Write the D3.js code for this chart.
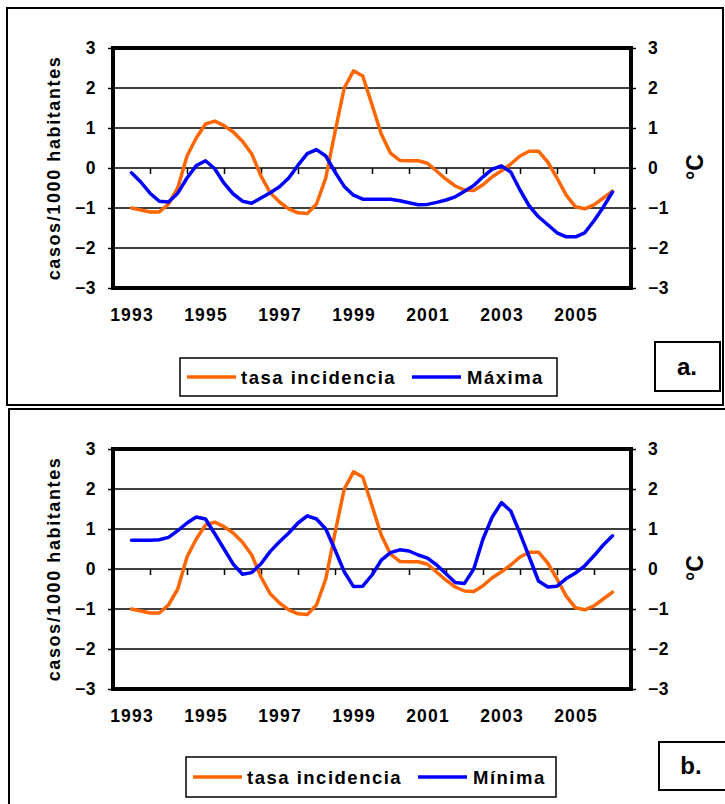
<!DOCTYPE html>
<html>
<head>
<meta charset="utf-8">
<script src="https://cdn.jsdelivr.net/npm/d3@7"></script>
<style>
  html, body { margin: 0; padding: 0; background: #fff; }
  svg { display: block; font-family: "Liberation Sans", Arial, sans-serif; font-weight: bold; }
</style>
</head>
<body>
<svg id="chart" width="725" height="804"></svg>
<script>
// ---- data (quarterly points, 1993.00 .. 2006.00) ----
const periods = d3.range(53).map(i => 1993 + i * 0.25);
const yearLabels = [1993, 1995, 1997, 1999, 2001, 2003, 2005];
const yTicks = [-3, -2, -1, 0, 1, 2, 3];

const tasaIncidencia = [
  -1.0, -1.05, -1.1, -1.1, -0.9, -0.5, 0.3, 0.75,
  1.1, 1.17, 1.06, 0.9, 0.67, 0.35, -0.2, -0.62,
  -0.85, -1.02, -1.12, -1.14, -0.9, -0.25, 0.9, 2.0,
  2.43, 2.3, 1.58, 0.85, 0.37, 0.19, 0.18, 0.18,
  0.12, -0.08, -0.28, -0.45, -0.55, -0.56, -0.42, -0.22,
  -0.07, 0.1, 0.3, 0.42, 0.42, 0.15, -0.25, -0.68,
  -0.97, -1.02, -0.92, -0.75, -0.58
];
const maxima = [
  -0.12, -0.35, -0.63, -0.83, -0.85, -0.63, -0.25, 0.06,
  0.18, -0.02, -0.38, -0.65, -0.83, -0.88, -0.75, -0.62,
  -0.47, -0.25, 0.07, 0.36, 0.46, 0.3, -0.1, -0.46,
  -0.68, -0.78, -0.78, -0.78, -0.78, -0.82, -0.87, -0.92,
  -0.91, -0.86, -0.8, -0.72, -0.58, -0.44, -0.22, -0.03,
  0.05, -0.1, -0.55, -0.95, -1.22, -1.42, -1.62, -1.72,
  -1.72, -1.62, -1.32, -0.98, -0.6
];
const minima = [
  0.72, 0.72, 0.72, 0.73, 0.79, 0.96, 1.15, 1.3,
  1.25, 0.88, 0.5, 0.12, -0.13, -0.09, 0.13, 0.44,
  0.68, 0.9, 1.15, 1.33, 1.25, 1.0, 0.48, -0.07,
  -0.44, -0.43, -0.15, 0.22, 0.41, 0.48, 0.45, 0.35,
  0.27, 0.1, -0.12, -0.34, -0.36, 0.0, 0.75, 1.3,
  1.66, 1.45, 0.89, 0.3, -0.3, -0.45, -0.43, -0.24,
  -0.1, 0.08, 0.33, 0.6, 0.83
];

const ORANGE = "#FF6600", BLUE = "#0000FF";
const FONT = '"Liberation Sans", Arial, sans-serif';
const svg = d3.select("#chart");

// outer panel frames
svg.append("rect").attr("x", 7).attr("y", 8).attr("width", 716).attr("height", 397)
  .attr("fill", "none").attr("stroke", "#000").attr("stroke-width", 2);
svg.append("rect").attr("x", 9).attr("y", 409).attr("width", 730).attr("height", 410)
  .attr("fill", "none").attr("stroke", "#000").attr("stroke-width", 2);

function styleText(s, size, ls) {
  s.attr("font-size", size).attr("font-weight", "bold").attr("font-family", FONT)
   .attr("fill", "#000").attr("letter-spacing", ls || null);
}

function panel(opt) {
  const g = svg.append("g");
  const x = d3.scaleLinear().domain([1992.5, 2006.5]).range([113, 631]);
  const y = d3.scaleLinear().domain([-3, 3]).range([opt.bottom, opt.top]);

  // gridlines
  g.append("g").selectAll("line").data(yTicks.filter(v => v !== -3 && v !== 3)).join("line")
    .attr("x1", x.range()[0]).attr("x2", x.range()[1])
    .attr("y1", d => y(d)).attr("y2", d => y(d))
    .attr("stroke", "#000").attr("stroke-width", 1.3);

  // category ticks on the zero line
  const tickAxis = d3.axisBottom(x).tickValues(d3.range(1993.5, 2006, 1)).tickSize(6).tickFormat("");
  g.append("g").attr("transform", `translate(0,${y(0)})`).call(tickAxis)
    .call(s => s.select(".domain").remove())
    .call(s => s.selectAll("line").attr("stroke", "#000").attr("stroke-width", 1.5));

  // year labels
  const labAxis = d3.axisBottom(x).tickValues(yearLabels).tickSize(0).tickFormat(d3.format("d"));
  g.append("g").attr("transform", `translate(0,${opt.bottom + 18})`).call(labAxis)
    .call(s => s.select(".domain").remove())
    .call(s => styleText(s.selectAll("text"), 17.5, "1.2px"));

  // left and right value axes
  const left = d3.axisLeft(y).tickValues(yTicks).tickSize(5).tickPadding(12).tickFormat(d3.format("d"));
  g.append("g").attr("transform", `translate(${x.range()[0]},0)`).call(left)
    .call(s => s.select(".domain").remove())
    .call(s => s.selectAll("line").attr("stroke", "#000").attr("stroke-width", 1.5))
    .call(s => styleText(s.selectAll("text"), 17.5, "0.5px"));
  const right = d3.axisRight(y).tickValues(yTicks).tickSize(5).tickPadding(12).tickFormat(d3.format("d"));
  g.append("g").attr("transform", `translate(${x.range()[1]},0)`).call(right)
    .call(s => s.select(".domain").remove())
    .call(s => s.selectAll("line").attr("stroke", "#000").attr("stroke-width", 1.5))
    .call(s => styleText(s.selectAll("text"), 17.5, "0.5px"));

  // series lines
  const line = d3.line().x((d, i) => x(periods[i])).y(d => y(d));
  g.append("path").datum(tasaIncidencia).attr("d", line)
    .attr("fill", "none").attr("stroke", ORANGE).attr("stroke-width", 3.5)
    .attr("stroke-linejoin", "round").attr("stroke-linecap", "round");
  g.append("path").datum(opt.series).attr("d", line)
    .attr("fill", "none").attr("stroke", BLUE).attr("stroke-width", 3.5)
    .attr("stroke-linejoin", "round").attr("stroke-linecap", "round");

  // thick plot frame
  g.append("rect").attr("x", x.range()[0]).attr("y", opt.top)
    .attr("width", x.range()[1] - x.range()[0]).attr("height", opt.bottom - opt.top)
    .attr("fill", "none").attr("stroke", "#000").attr("stroke-width", 4);

  // axis titles
  const cy = (opt.top + opt.bottom) / 2;
  g.append("text").attr("transform", `translate(60,${cy}) rotate(-90)`)
    .attr("text-anchor", "middle").attr("font-size", 18).attr("letter-spacing", "1.6px")
    .text("casos/1000 habitantes");
  g.append("text").attr("transform", `translate(703,${cy - 1}) rotate(-90)`)
    .attr("text-anchor", "middle").attr("font-size", 23)
    .text("°C");

  // legend
  const L = opt.legend;
  g.append("rect").attr("x", L.x).attr("y", L.y).attr("width", L.w).attr("height", L.h)
    .attr("fill", "#fff").attr("stroke", "#000").attr("stroke-width", 1.5);
  const ly = L.y + L.h / 2;
  g.append("line").attr("x1", L.x + 7).attr("x2", L.x + 56).attr("y1", ly).attr("y2", ly)
    .attr("stroke", ORANGE).attr("stroke-width", 3.5);
  g.append("text").attr("x", L.x + 61).attr("y", ly + 6.5).attr("font-size", 18.5)
    .attr("letter-spacing", "1.5px").text("tasa incidencia");
  g.append("line").attr("x1", L.x + L.b).attr("x2", L.x + L.b + 49).attr("y1", ly).attr("y2", ly)
    .attr("stroke", BLUE).attr("stroke-width", 3.5);
  g.append("text").attr("x", L.x + L.b + 55).attr("y", ly + 6.5).attr("font-size", 18.5)
    .attr("letter-spacing", "1.5px").text(opt.name);

  // panel tag
  const T = opt.tag;
  g.append("rect").attr("x", T.x).attr("y", T.y).attr("width", T.w).attr("height", T.h)
    .attr("fill", "#fff").attr("stroke", "#000").attr("stroke-width", 2);
  g.append("text").attr("x", T.x + 32).attr("y", T.y + T.h / 2 + 8).attr("text-anchor", "middle")
    .attr("font-size", 24).text(T.text);
}

panel({
  top: 48, bottom: 288, series: maxima, name: "Máxima",
  legend: { x: 180, y: 358, w: 377, h: 38, b: 232 },
  tag: { x: 655, y: 342, w: 65, h: 49, text: "a." }
});
panel({
  top: 449, bottom: 689, series: minima, name: "Mínima",
  legend: { x: 186, y: 757, w: 370, h: 40, b: 232 },
  tag: { x: 659, y: 742, w: 70, h: 48, text: "b." }
});
</script>
</body>
</html>
